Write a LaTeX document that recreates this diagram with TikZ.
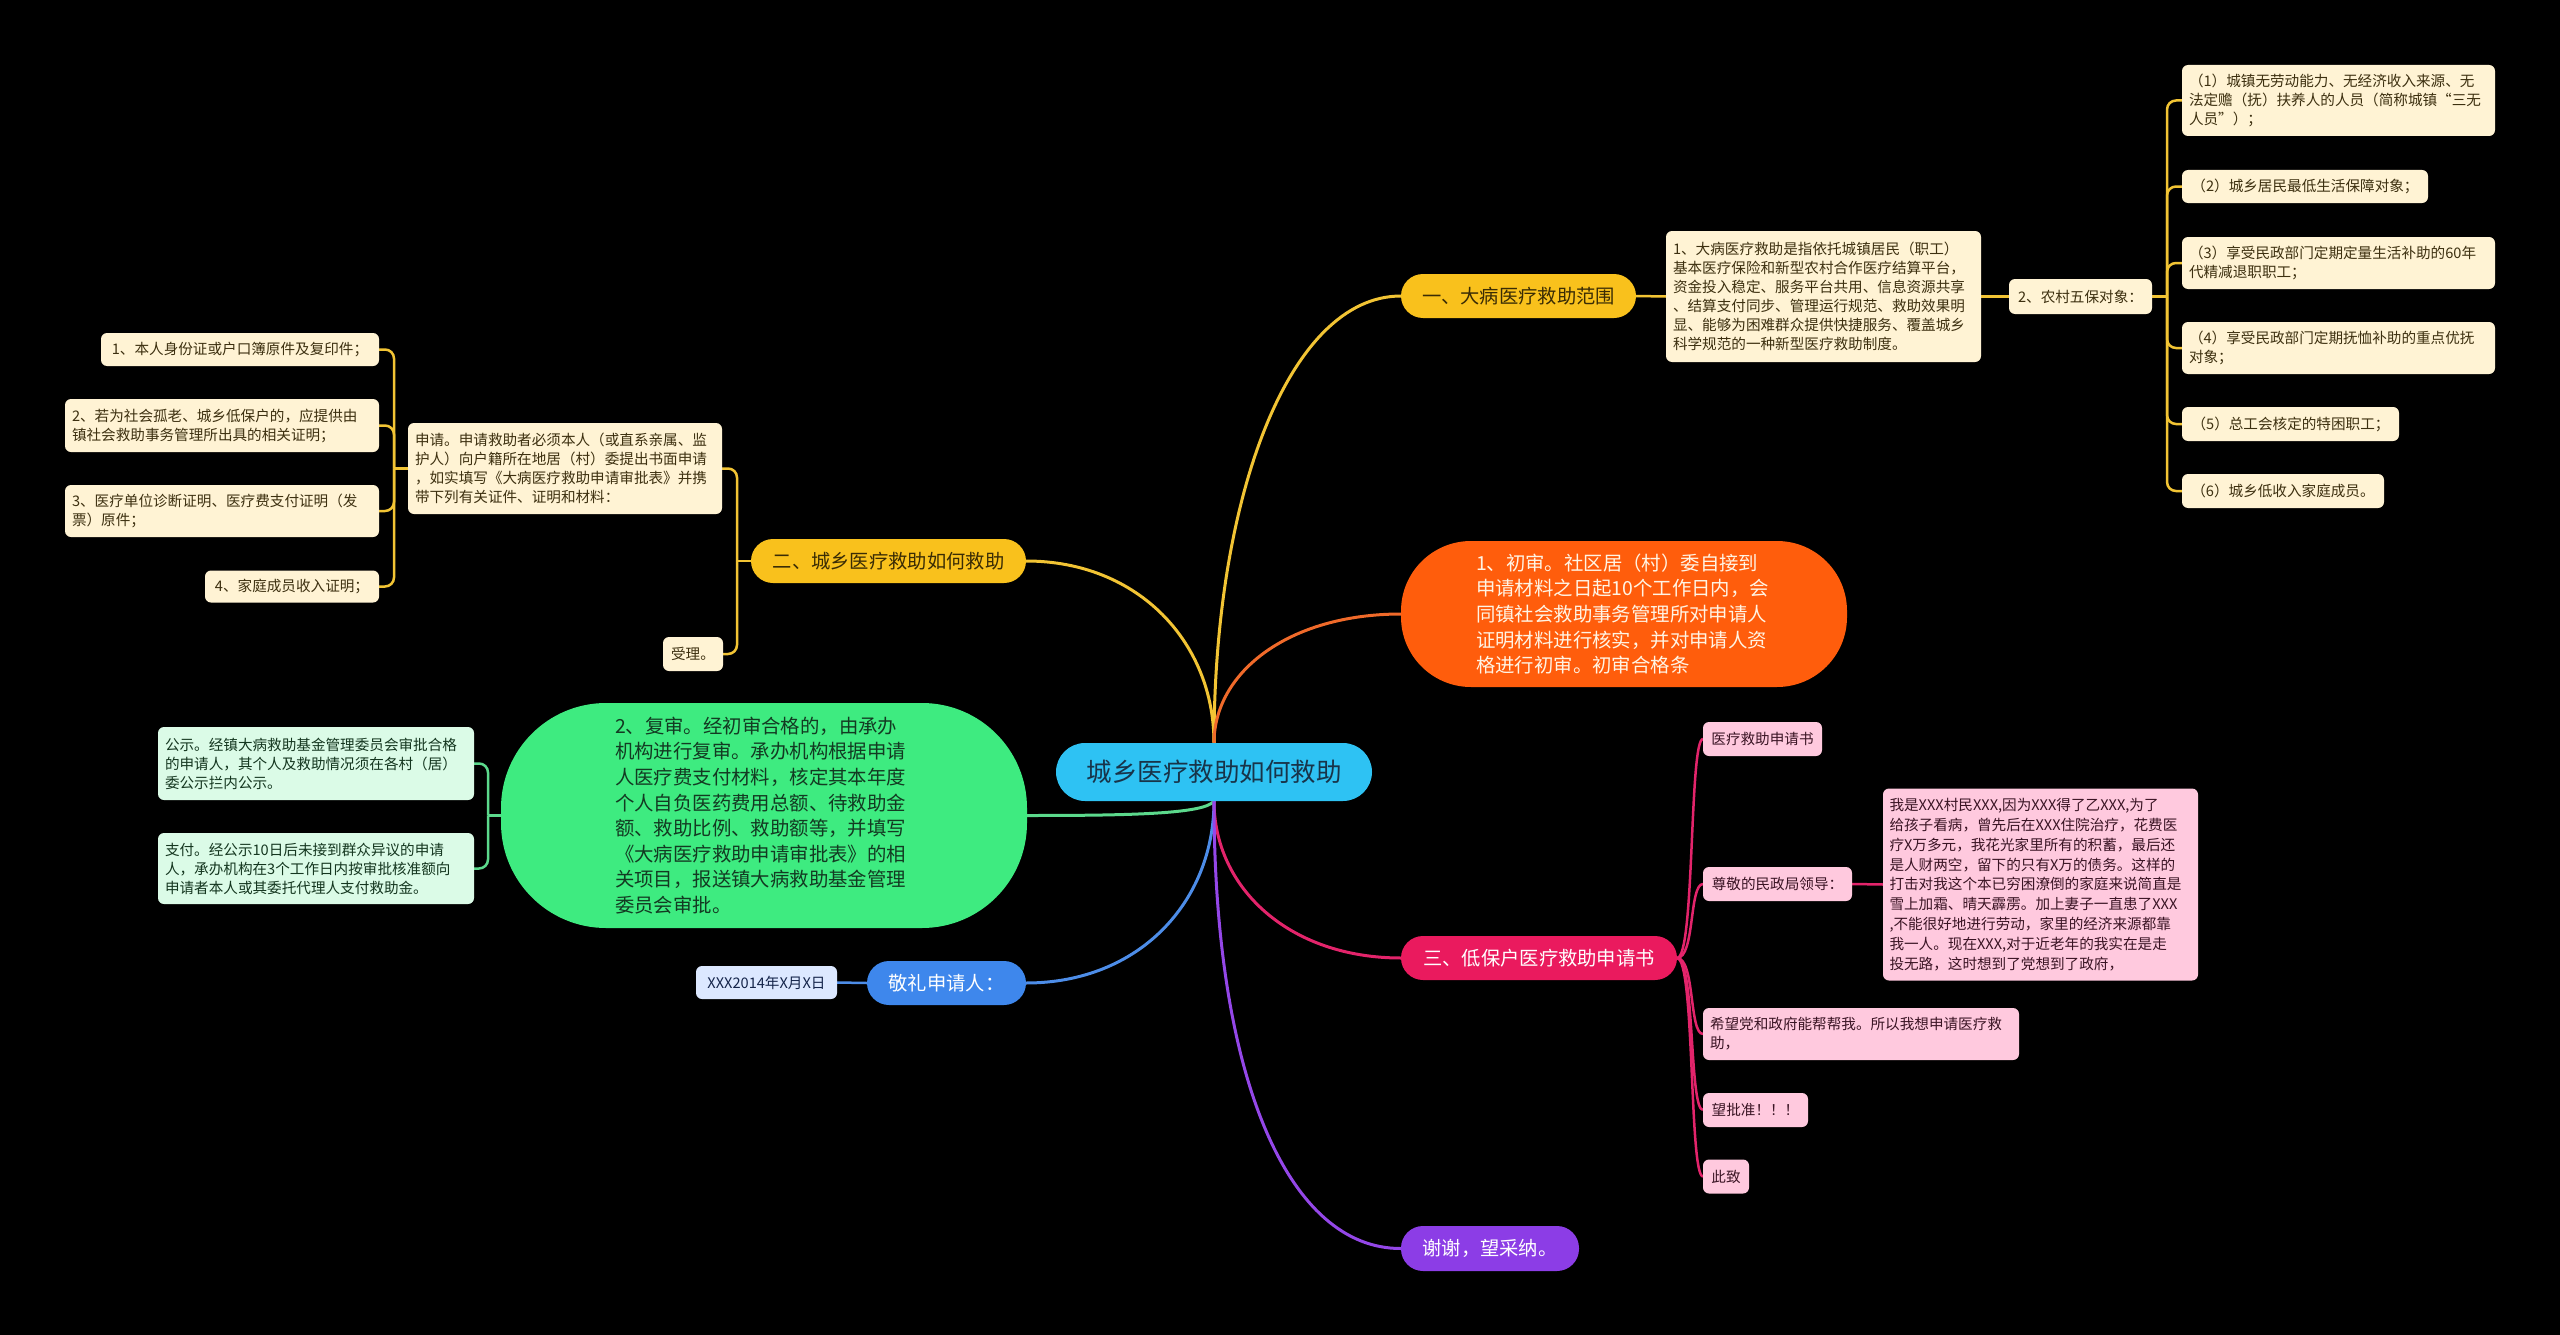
\documentclass[tikz,border=0pt]{standalone}
\usepackage{fontspec}
\setmainfont{Noto Sans CJK SC}
\pgfdeclarelayer{back}
\pgfdeclarelayer{bg}
\pgfsetlayers{back,bg,main}
\definecolor{bgc}{HTML}{000000}
\definecolor{cyanf}{HTML}{2EC2F3}
\definecolor{cyant}{HTML}{183449}
\definecolor{ylwf}{HTML}{F9C11C}
\definecolor{ylwt}{HTML}{3A2C05}
\definecolor{ylwl}{HTML}{F2C434}
\definecolor{creamf}{HTML}{FFF3D4}
\definecolor{creamt}{HTML}{3D3010}
\definecolor{orgf}{HTML}{FF5D0C}
\definecolor{orgt}{HTML}{FFF4E4}
\definecolor{orgl}{HTML}{F06A2A}
\definecolor{crmf}{HTML}{EA1A5E}
\definecolor{crml}{HTML}{E3246B}
\definecolor{pinkf}{HTML}{FFC9DE}
\definecolor{pinkt}{HTML}{3A1424}
\definecolor{purf}{HTML}{8C3DE6}
\definecolor{purl}{HTML}{9447E8}
\definecolor{bluef}{HTML}{3E87EC}
\definecolor{bluel}{HTML}{4D8DE8}
\definecolor{pbluef}{HTML}{DCE8FF}
\definecolor{pbluet}{HTML}{14244A}
\definecolor{grnf}{HTML}{3EEB80}
\definecolor{grnt}{HTML}{133A22}
\definecolor{grnl}{HTML}{5CD98C}
\definecolor{pgrnf}{HTML}{DBFBE7}
\definecolor{pgrnt}{HTML}{14361F}
\tikzset{
  every node/.style={inner sep=0pt, outer sep=0pt},
  smallbox/.style={rounded corners=6pt, align=left, font=\fontsize{14.6}{19}\selectfont},
  cbox/.style={smallbox, fill=creamf, text=creamt},
  pbox/.style={smallbox, fill=pinkf, text=pinkt},
  gbox/.style={smallbox, fill=pgrnf, text=pgrnt},
  lbbox/.style={smallbox, fill=pbluef, text=pbluet},
  branch/.style={rounded corners=22pt, align=center, font=\fontsize{19.3}{24}\selectfont, minimum height=44pt},
  ybranch/.style={branch, fill=ylwf, text=ylwt},
  rbranch/.style={branch, fill=crmf, text=white},
  vbranch/.style={branch, fill=purf, text=white},
  bbranch/.style={branch, fill=bluef, text=white},
  ctr/.style={rounded corners=29pt, fill=cyanf, text=cyant, font=\fontsize{25.5}{30}\selectfont, minimum width=316pt, minimum height=58pt},
  bigbox/.style={align=left, font=\fontsize{19.4}{25.6}\selectfont},
  mline/.style={line width=3pt},
  sline/.style={line width=2.5pt, rounded corners=9pt},
}
\begin{document}
\begin{tikzpicture}[x=1pt,y=-1pt]
\begin{pgfonlayer}{back}
\fill[bgc] (0,0) rectangle (2560,1335);
\end{pgfonlayer}
\useasboundingbox (0,0) rectangle (2560,1335);

% centre
\node[ctr] (c) at (1214,772) {城乡医疗救助如何救助};

% right upper branch
\node[ybranch, minimum width=235pt] (b1) at (1518.5,296) {一、大病医疗救助范围};
\node[cbox, minimum width=315pt, minimum height=131pt, text width=301pt] (d1) at (1823.5,296.5) {1、大病医疗救助是指依托城镇居民（职工）\\基本医疗保险和新型农村合作医疗结算平台，\\资金投入稳定、服务平台共用、信息资源共享\\、结算支付同步、管理运行规范、救助效果明\\显、能够为困难群众提供快捷服务、覆盖城乡\\科学规范的一种新型医疗救助制度。};
\node[cbox, minimum width=143pt, minimum height=35pt] (n2) at (2080.5,296.5) {2、农村五保对象：};
\node[cbox, minimum width=313pt, minimum height=71pt, text width=299pt] (s1) at (2338.5,100.5) {（1）城镇无劳动能力、无经济收入来源、无\\法定赡（抚）扶养人的人员（简称城镇“三无\\人员”）；};
\node[cbox, minimum width=246pt, minimum height=33pt] (s2) at (2305,186.5) {（2）城乡居民最低生活保障对象；};
\node[cbox, minimum width=313pt, minimum height=52pt, text width=299pt] (s3) at (2338.5,263) {（3）享受民政部门定期定量生活补助的60年\\代精减退职职工；};
\node[cbox, minimum width=313pt, minimum height=52pt, text width=299pt] (s4) at (2338.5,348) {（4）享受民政部门定期抚恤补助的重点优抚\\对象；};
\node[cbox, minimum width=217pt, minimum height=34pt] (s5) at (2290.5,424) {（5）总工会核定的特困职工；};
\node[cbox, minimum width=202pt, minimum height=34pt] (s6) at (2283,491) {（6）城乡低收入家庭成员。};

% orange
\node[bigbox, fill=orgf, text=orgt, rounded corners=70pt, minimum width=446pt, minimum height=146pt, text width=296pt] (o1) at (1624,614) {1、初审。社区居（村）委自接到\\申请材料之日起10个工作日内，会\\同镇社会救助事务管理所对申请人\\证明材料进行核实，并对申请人资\\格进行初审。初审合格条};

% crimson branch
\node[rbranch, minimum width=276pt] (b3) at (1539,958) {三、低保户医疗救助申请书};
\node[pbox, minimum width=119pt, minimum height=34pt] (k1) at (1762.5,739) {医疗救助申请书};
\node[pbox, minimum width=149pt, minimum height=34pt] (k2) at (1777.5,884) {尊敬的民政局领导：};
\node[pbox, minimum width=315pt, minimum height=192pt, text width=302pt, font=\fontsize{14.6}{19.8}\selectfont] (k2a) at (2040.5,884.5) {我是XXX村民XXX,因为XXX得了乙XXX,为了\\给孩子看病，曾先后在XXX住院治疗，花费医\\疗X万多元，我花光家里所有的积蓄，最后还\\是人财两空，留下的只有X万的债务。这样的\\打击对我这个本已穷困潦倒的家庭来说简直是\\雪上加霜、晴天霹雳。加上妻子一直患了XXX\\,不能很好地进行劳动，家里的经济来源都靠\\我一人。现在XXX,对于近老年的我实在是走\\投无路，这时想到了党想到了政府，};
\node[pbox, minimum width=316pt, minimum height=52pt, text width=302pt] (k3) at (1861,1034) {希望党和政府能帮帮我。所以我想申请医疗救\\助，};
\node[pbox, minimum width=105pt, minimum height=34pt] (k4) at (1755.5,1110) {望批准！！！};
\node[pbox, minimum width=46pt, minimum height=34pt] (k5) at (1726,1176.5) {此致};

% purple
\node[vbranch, minimum width=178pt, minimum height=45pt] (b4) at (1490,1248.5) {谢谢，望采纳。};

% left yellow branch
\node[ybranch, minimum width=275pt] (b2) at (888.5,561) {二、城乡医疗救助如何救助};
\node[cbox, minimum width=60pt, minimum height=34pt] (q2) at (693,654) {受理。};
\node[cbox, minimum width=314pt, minimum height=91pt, text width=300pt] (q1) at (565,468.5) {申请。申请救助者必须本人（或直系亲属、监\\护人）向户籍所在地居（村）委提出书面申请\\，如实填写《大病医疗救助申请审批表》并携\\带下列有关证件、证明和材料：};
\node[cbox, minimum width=278pt, minimum height=33pt] (r1) at (240,349.5) {1、本人身份证或户口簿原件及复印件；};
\node[cbox, minimum width=314pt, minimum height=53pt, text width=300pt] (r2) at (222,425.5) {2、若为社会孤老、城乡低保户的，应提供由\\镇社会救助事务管理所出具的相关证明；};
\node[cbox, minimum width=314pt, minimum height=52pt, text width=300pt] (r3) at (222,511) {3、医疗单位诊断证明、医疗费支付证明（发\\票）原件；};
\node[cbox, minimum width=174pt, minimum height=32pt] (r4) at (292,586.5) {4、家庭成员收入证明；};

% green
\node[bigbox, fill=grnf, text=grnt, rounded corners=105pt, minimum width=526pt, minimum height=225pt, text width=298pt] (g1) at (764,815.5) {2、复审。经初审合格的，由承办\\机构进行复审。承办机构根据申请\\人医疗费支付材料，核定其本年度\\个人自负医药费用总额、待救助金\\额、救助比例、救助额等，并填写\\《大病医疗救助申请审批表》的相\\关项目，报送镇大病救助基金管理\\委员会审批。};
\node[gbox, minimum width=316pt, minimum height=73pt, text width=302pt] (t1) at (316,763.5) {公示。经镇大病救助基金管理委员会审批合格\\的申请人，其个人及救助情况须在各村（居）\\委公示拦内公示。};
\node[gbox, minimum width=316pt, minimum height=71pt, text width=302pt] (t2) at (316,868.5) {支付。经公示10日后未接到群众异议的申请\\人，承办机构在3个工作日内按审批核准额向\\申请者本人或其委托代理人支付救助金。};

% blue
\node[bbranch, minimum width=159pt] (bl) at (946.5,983) {敬礼申请人：};
\node[lbbox, minimum width=141pt, minimum height=33pt] (x1) at (766.5,982.5) {XXX2014年X月X日};

\begin{pgfonlayer}{bg}
% main connectors
\draw[mline, ylwl] (c.north) .. controls (1214,497) and (1289,296) .. (b1.west);
\draw[mline, ylwl] (c.north) .. controls (1214,643) and (1139,561) .. (b2.east);
\draw[mline, orgl] (c.north) .. controls (1214,672) and (1289,614) .. (o1.west);
\draw[mline, grnl] (c.south) .. controls (1205,814) and (1130,815.5) .. (g1.east);
\draw[mline, bluel] (c.south) .. controls (1214,902) and (1139,983) .. (bl.east);
\draw[mline, crml] (c.south) .. controls (1214,888) and (1289,958) .. (b3.west);
\draw[mline, purl] (c.south) .. controls (1214,1080) and (1289,1249) .. (b4.west);

% yellow right
\draw[sline, ylwl] (b1.east) -- (d1.west);
\draw[sline, ylwl] (d1.east) -- (n2.west);
\draw[sline, ylwl] (n2.east) -- ++(15,0) coordinate (jn);
\foreach \k in {s1,s2,s3,s4,s5,s6} \draw[sline, ylwl] (jn) |- (\k.west);

% pink
\foreach \k in {k1,k2,k3,k4,k5} \draw[sline, crml] (b3.east) .. controls +(18,0) and +(-14,0) .. (\k.west);
\draw[sline, crml] (k2.east) -- (k2a.west);

% yellow left
\draw[sline, ylwl] (b2.west) -- ++(-14,0) coordinate (jq);
\draw[sline, ylwl] (jq) |- (q1.east);
\draw[sline, ylwl] (jq) |- (q2.east);
\draw[sline, ylwl] (q1.west) -- ++(-14,0) coordinate (jr);
\foreach \k in {r1,r2,r3,r4} \draw[sline, ylwl] (jr) |- (\k.east);

% green
\draw[sline, grnl] (g1.west) -- ++(-13,0) coordinate (jt);
\draw[sline, grnl] (jt) |- (t1.east);
\draw[sline, grnl] (jt) |- (t2.east);

% blue
\draw[sline, bluel] (bl.west) -- (x1.east);
\end{pgfonlayer}
\end{tikzpicture}
\end{document}
